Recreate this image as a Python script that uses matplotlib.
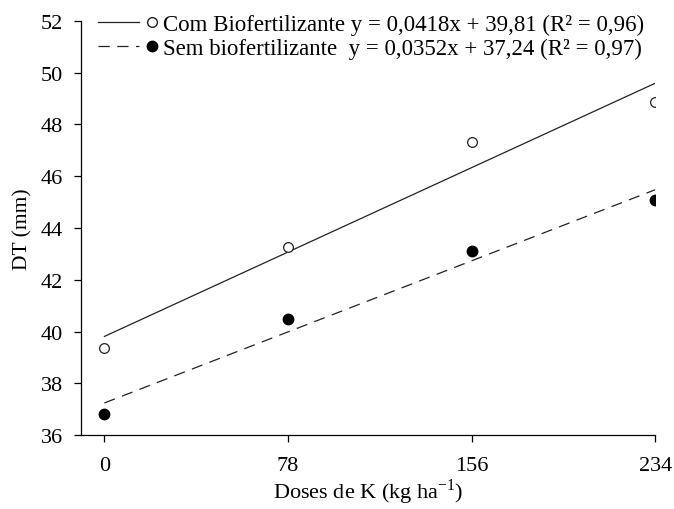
import matplotlib
matplotlib.use("Agg")
import matplotlib.pyplot as plt
from matplotlib.lines import Line2D
from matplotlib.legend_handler import HandlerTuple
import numpy as np

plt.rcParams['font.family'] = ['Liberation Serif', 'DejaVu Serif']
plt.rcParams['mathtext.fontset'] = 'custom'
plt.rcParams['mathtext.rm'] = 'Liberation Serif'

doses = [0, 78, 156, 234]
com_bio = [39.36, 43.25, 47.32, 48.85]
sem_bio = [36.80, 40.50, 43.12, 45.08]

# fitted equations as given in the legend
com_fit = (0.0418, 39.81)
sem_fit = (0.0352, 37.24)
com_label = "Com Biofertilizante y = 0,0418x + 39,81 (R² = 0,96)"
sem_label = "Sem biofertilizante  y = 0,0352x + 37,24 (R² = 0,97)"

dash = (0, (9, 6))

fig = plt.figure(figsize=(6.74, 5.10), dpi=100)
ax = fig.add_axes([0.120, 0.145, 0.852, 0.812])

xx = np.array([doses[0], doses[-1]])
ax.plot(xx, com_fit[0] * xx + com_fit[1], color='#222222', lw=0.9)
ax.plot(xx, sem_fit[0] * xx + sem_fit[1], color='#222222', lw=0.9,
        linestyle=dash)
ax.plot(doses, com_bio, 'o', ms=7, mfc='white', mec='#222222', mew=0.9)
ax.plot(doses, sem_bio, 'o', ms=7.5, mfc='black', mec='black')

ax.set_xlim(-10, 234)
ax.set_ylim(36, 52)
ax.set_xticks(doses)
ax.set_yticks(range(36, 53, 2))
ax.spines['top'].set_visible(False)
ax.spines['right'].set_visible(False)
for s in ['left', 'bottom']:
    ax.spines[s].set_linewidth(0.9)
ax.tick_params(direction='out', length=5, width=0.9, labelsize=16)
ax.tick_params(axis='x', pad=10)
ax.tick_params(axis='y', pad=8)

ax.set_xlabel("Doses de K (kg ha$^{\\mathrm{-1}}$)", fontsize=16, labelpad=1)
ax.set_ylabel("DT (mm)", fontsize=15.5, labelpad=6)

h1 = (Line2D([], [], color='#222222', lw=0.9),
      Line2D([], [], marker='o', ls='none', ms=7, mfc='white', mec='#222222'))
h2 = (Line2D([], [], color='#222222', lw=0.9, linestyle=dash),
      Line2D([], [], marker='o', ls='none', ms=7.5, mfc='black', mec='black'))
ax.legend([h1, h2], [com_label, sem_label],
          handler_map={tuple: HandlerTuple(ndivide=None, pad=-0.33)},
          loc='upper left', bbox_to_anchor=(0.006, 1.05), frameon=False,
          fontsize=16.5, handlelength=3.25, handletextpad=-0.4,
          labelspacing=0.12, borderaxespad=0.2)

fig.savefig("out.png", dpi=100)
